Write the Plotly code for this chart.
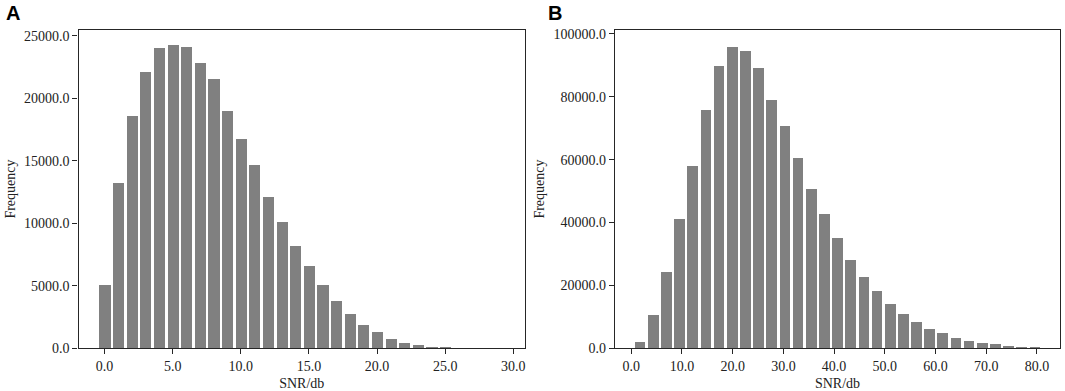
import plotly.graph_objects as go

# Panel A: SNR bin centres (dB) and counts
snr_a = [0, 1, 2, 3, 4, 5, 6, 7, 8, 9, 10, 11, 12, 13, 14,
         15, 16, 17, 18, 19, 20, 21, 22, 23, 24, 25, 26, 27, 28, 29]
freq_a = [5100, 13200, 18600, 22150, 24050, 24300, 24150, 22800, 21550, 19000,
          16750, 14700, 12150, 10150, 8200, 6600, 5050, 3800, 2750, 1850,
          1280, 800, 480, 270, 160, 80, 40, 20, 10, 5]

# Panel B: SNR bin centres (dB) and counts
snr_b = [1.75, 4.35, 6.94, 9.54, 12.13, 14.73, 17.32, 19.92, 22.51, 25.11,
         27.70, 30.30, 32.89, 35.49, 38.08, 40.68, 43.27, 45.87, 48.46, 51.06,
         53.65, 56.25, 58.84, 61.44, 64.03, 66.63, 69.22, 71.82, 74.41, 77.01, 79.60]
freq_b = [2000, 10800, 24400, 41200, 57900, 75900, 90000, 95900, 94500, 89300,
          79100, 70900, 60600, 50700, 42800, 35000, 28000, 22900, 18400, 14300,
          11100, 8400, 6300, 4800, 3500, 2500, 1800, 1400, 700, 450, 250]

ticks_ax = [0, 5, 10, 15, 20, 25, 30]
ticks_ay = [0, 5000, 10000, 15000, 20000, 25000]
ticks_bx = [0, 10, 20, 30, 40, 50, 60, 70, 80]
ticks_by = [0, 20000, 40000, 60000, 80000, 100000]

W, H = 1065, 391
BAR = "#808080"
LINE = "#262626"
FONT = dict(family="Liberation Serif, Times New Roman, serif", size=14, color="#222222")

fig = go.Figure()
fig.add_trace(go.Bar(x=snr_a, y=freq_a, width=0.82, marker=dict(color=BAR, line=dict(width=0)),
                     xaxis="x", yaxis="y", showlegend=False))
fig.add_trace(go.Bar(x=snr_b, y=freq_b, width=2.1, marker=dict(color=BAR, line=dict(width=0)),
                     xaxis="x2", yaxis="y2", showlegend=False))

ydom = [1 - 348.3 / H, 1 - 29.8 / H]
common = dict(showline=True, linecolor=LINE, linewidth=1.2, mirror=True, ticks="outside",
              ticklen=5, tickwidth=1, tickcolor=LINE, showgrid=False, zeroline=False,
              tickfont=FONT, tickformat=".1f", automargin=False)

fig.update_layout(
    width=W, height=H,
    margin=dict(l=0, r=0, t=0, b=0),
    paper_bgcolor="white", plot_bgcolor="white",
    bargap=0,
    xaxis=dict(domain=[78.5 / W, 525 / W], range=[-1.91, 30.86], tickvals=ticks_ax,
               title=dict(text="SNR/db", font=FONT, standoff=6), anchor="y", **common),
    yaxis=dict(domain=ydom, range=[0, 25470], tickvals=ticks_ay,
               title=dict(text="Frequency", font=FONT, standoff=5), anchor="x", **common),
    xaxis2=dict(domain=[615 / W, 1060 / W], range=[-3.21, 84.55], tickvals=ticks_bx,
                title=dict(text="SNR/db", font=FONT, standoff=6), anchor="y2", **common),
    yaxis2=dict(domain=ydom, range=[0, 101300], tickvals=ticks_by,
                title=dict(text="Frequency", font=FONT, standoff=5), anchor="x2", **common),
    annotations=[
        dict(text="<b>A</b>", x=4 / W, y=1.0, xref="paper", yref="paper", xanchor="left",
             yanchor="top", showarrow=False,
             font=dict(family="Liberation Sans, Arial, sans-serif", size=20, color="black")),
        dict(text="<b>B</b>", x=546 / W, y=1.0, xref="paper", yref="paper", xanchor="left",
             yanchor="top", showarrow=False,
             font=dict(family="Liberation Sans, Arial, sans-serif", size=20, color="black")),
    ],
)

fig.write_html("out.html", config={"displayModeBar": False},
               post_script="document.body.style.margin='0px';document.body.style.overflow='hidden';")
